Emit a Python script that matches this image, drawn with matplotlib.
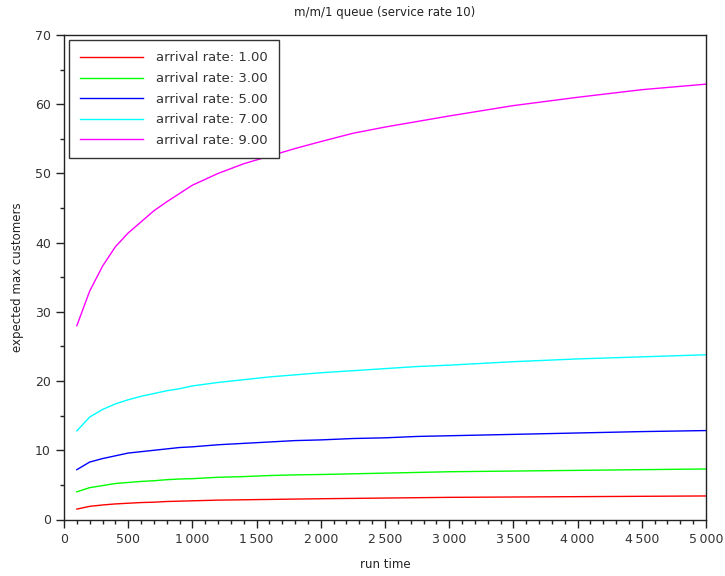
import matplotlib
matplotlib.use("Agg")
import matplotlib.pyplot as plt
from matplotlib.ticker import MultipleLocator, FuncFormatter

run_time = [100, 200, 300, 400, 500, 600, 700, 800, 900, 1000, 1200, 1400, 1600,
            1800, 2000, 2250, 2500, 2750, 3000, 3500, 4000, 4500, 5000]

rate_1 = [1.5, 1.9, 2.1, 2.25, 2.35, 2.45, 2.5, 2.6, 2.65, 2.7, 2.8, 2.85, 2.9,
          2.95, 3.0, 3.05, 3.1, 3.15, 3.2, 3.25, 3.3, 3.35, 3.4]
rate_3 = [4.0, 4.6, 4.9, 5.2, 5.35, 5.5, 5.6, 5.75, 5.85, 5.9, 6.1, 6.2, 6.35,
          6.45, 6.5, 6.6, 6.7, 6.8, 6.9, 7.0, 7.1, 7.2, 7.3]
rate_5 = [7.2, 8.3, 8.8, 9.2, 9.6, 9.8, 10.0, 10.2, 10.4, 10.5, 10.8, 11.0, 11.2,
          11.4, 11.5, 11.7, 11.8, 12.0, 12.1, 12.3, 12.5, 12.7, 12.85]
rate_7 = [12.8, 14.8, 15.9, 16.7, 17.3, 17.8, 18.2, 18.6, 18.9, 19.3, 19.8, 20.2, 20.6,
          20.9, 21.2, 21.5, 21.8, 22.1, 22.3, 22.8, 23.2, 23.5, 23.8]
rate_9 = [28.0, 33.0, 36.6, 39.4, 41.4, 43.0, 44.6, 45.9, 47.1, 48.3, 50.0, 51.4, 52.5,
          53.6, 54.6, 55.8, 56.7, 57.5, 58.3, 59.8, 61.0, 62.1, 62.9]

series = [rate_1, rate_3, rate_5, rate_7, rate_9]
labels = ["arrival rate: 1.00", "arrival rate: 3.00", "arrival rate: 5.00",
          "arrival rate: 7.00", "arrival rate: 9.00"]
colors = ["#ff0000", "#00ff00", "#0000ff", "#00ffff", "#ff00ff"]

fig = plt.figure(figsize=(7.25, 5.76), dpi=100)
ax = fig.add_axes([64 / 725, 1 - 519.5 / 576, (706 - 64) / 725, (519.5 - 35) / 576])

for ys, lab, c in zip(series, labels, colors):
    ax.plot(run_time, ys, color=c, lw=1.0, label=lab)

ax.set_xlim(0, 5000)
ax.set_ylim(0, 70)
ax.xaxis.set_major_locator(MultipleLocator(500))
ax.xaxis.set_minor_locator(MultipleLocator(100))
ax.yaxis.set_major_locator(MultipleLocator(10))
ax.yaxis.set_minor_locator(MultipleLocator(5))
ax.xaxis.set_major_formatter(FuncFormatter(lambda v, p: f"{int(v):,}".replace(",", "\u2009")))
ax.tick_params(which="major", direction="out", length=6, width=1, labelsize=9,
               colors="#222222", labelcolor="#333333", top=False, right=False)
ax.tick_params(which="minor", direction="out", length=3, width=1, top=False, right=False,
               colors="#222222")
for s in ax.spines.values():
    s.set_color("#222222")
    s.set_linewidth(1)

ax.set_title("m/m/1 queue (service rate 10)", fontsize=8.5, color="#222222", pad=14)
ax.set_xlabel("run time", fontsize=8.5, color="#222222", labelpad=9)
ax.set_ylabel("expected max customers", fontsize=8.5, color="#222222", labelpad=8)

leg = ax.legend(loc="upper left", fontsize=9.5, handlelength=4.7, handletextpad=1.0,
                labelspacing=0.58, borderpad=0.85, fancybox=False, framealpha=1,
                edgecolor="#333333", borderaxespad=0.4)
leg.get_frame().set_linewidth(1.0)
for t in leg.get_texts():
    t.set_color("#333333")

fig.savefig("out.png", dpi=100)
